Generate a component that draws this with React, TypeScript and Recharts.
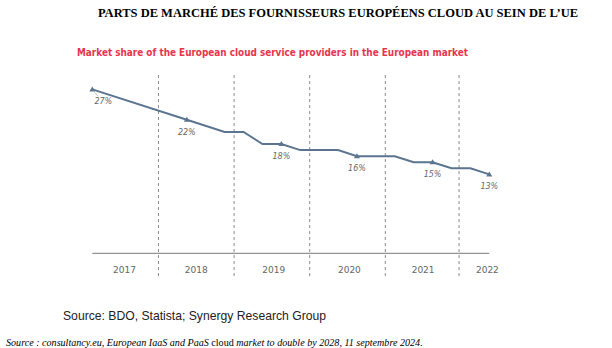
import React from 'react';
import { LineChart, Line, XAxis, YAxis, ReferenceLine } from 'recharts';

// Line vertices: position along the timeline (0..21) and market share (%)
const positions = [0, 5, 7, 8, 9, 10, 11, 13, 14, 16, 17, 18, 19, 20, 21];
const shares = [27, 22, 20, 20, 18, 18, 17, 17, 16, 16, 15, 15, 14, 14, 13];
// Positions that carry a marker + label
const labeledPositions = [0, 5, 10, 14, 18, 21];
const years = ['2017', '2018', '2019', '2020', '2021', '2022'];
const yearTickPositions = [1.7, 5.5, 9.6, 13.6, 17.5, 20.9];
const dividerPositions = [3.5, 7.5, 11.5, 15.5, 19.4];

const data = positions.map((p, i) => ({
  x: p,
  share: shares[i],
  labeled: labeledPositions.includes(p),
}));

const LINE = '#5b7590';

const Dot = (props: any) => {
  const { cx, cy, payload } = props;
  if (!payload || !payload.labeled) return <g key={props.key} />;
  const first = payload.x === 0;
  const lx = first ? cx + 11 : cx;
  const ly = cy + 15;
  return (
    <g key={props.key}>
      <path d={`M${cx - 3},${cy + 2} L${cx + 3},${cy + 2} L${cx},${cy - 3} Z`} fill={LINE} />
      {first && <line x1={cx + 2} y1={cy + 3} x2={cx + 6} y2={cy + 7} stroke="#999" strokeWidth={0.6} />}
      <text x={lx} y={ly} textAnchor="middle" fontSize={8} fontStyle="italic" fill="#666" fontFamily="'DejaVu Sans', sans-serif">
        {payload.share}%
      </text>
    </g>
  );
};

const YearTick = (props: any) => {
  const { x, y, payload } = props;
  const idx = yearTickPositions.indexOf(payload.value);
  return (
    <text x={x} y={y + 12} textAnchor="middle" fontSize={9} fill="#666" fontFamily="'DejaVu Sans', sans-serif">
      {years[idx]}
    </text>
  );
};

export default function App() {
  return (
    <div style={{ position: 'absolute', left: 0, top: 0, width: 612, height: 348, background: '#fff' }}>
      <div style={{ position: 'absolute', left: 0, top: 0 }}>
        <LineChart
          width={612}
          height={348}
          data={data}
          margin={{ top: 71.2, right: 103.8, bottom: 74.7, left: 73.4 }}
        >
          <XAxis
            dataKey="x"
            type="number"
            domain={[-1, 22]}
            ticks={yearTickPositions}
            tick={<YearTick />}
            tickLine={false}
            axisLine={false}
            height={20}
            allowDataOverflow
          />
          <YAxis type="number" domain={[0, 30]} hide width={0} />
          <ReferenceLine
            segment={[{ x: 0, y: 0 }, { x: 21, y: 0 }]}
            stroke="#777"
            strokeWidth={1}
            ifOverflow="visible"
          />
          {dividerPositions.map((d) => (
            <ReferenceLine
              key={d}
              segment={[{ x: d, y: -3.75 }, { x: d, y: 29.4 }]}
              stroke="#888"
              strokeDasharray="3 3"
              strokeWidth={1}
              ifOverflow="visible"
            />
          ))}
          <Line
            dataKey="share"
            type="linear"
            stroke={LINE}
            strokeWidth={2}
            dot={<Dot />}
            activeDot={false}
            isAnimationActive={false}
          />
        </LineChart>
      </div>
      <svg width={612} height={348} style={{ position: 'absolute', left: 0, top: 0, pointerEvents: 'none' }}>
        <text x={338} y={17} textAnchor="middle" fontSize={12.5} fontWeight="bold" fill="#000" fontFamily="'Liberation Serif', serif">
          PARTS DE MARCHÉ DES FOURNISSEURS EUROPÉENS CLOUD AU SEIN DE L’UE
        </text>
        <text x={77} y={56} fontSize={10.5} fontWeight="bold" fill="#e8344c" fontFamily="'DejaVu Sans', sans-serif" textLength={391} lengthAdjust="spacingAndGlyphs">
          Market share of the European cloud service providers in the European market
        </text>
        <text x={63} y={320} fontSize={13.5} fill="#222" fontFamily="'Liberation Sans', Arial, sans-serif" textLength={263} lengthAdjust="spacingAndGlyphs">
          Source: BDO, Statista; Synergy Research Group
        </text>
        <text x={6} y={346} fontSize={10.1} fill="#000" fontFamily="'Liberation Serif', serif">
          <tspan fontStyle="italic">Source : consultancy.eu, European IaaS and PaaS </tspan>
          <tspan>cloud </tspan>
          <tspan fontStyle="italic">market to double by 2028, 11 septembre 2024.</tspan>
        </text>
      </svg>
    </div>
  );
}
